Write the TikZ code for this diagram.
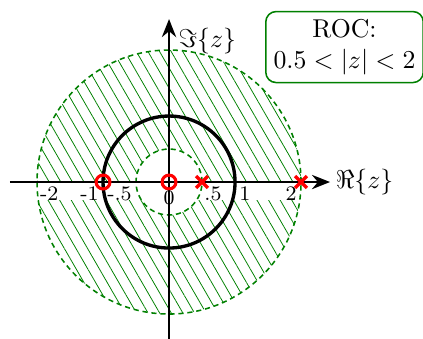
\documentclass[tikz,border=0pt]{standalone}
\usetikzlibrary{patterns.meta,arrows.meta}
\definecolor{rocgreen}{RGB}{0,128,0}
\begin{document}
\begin{tikzpicture}[x=0.9cm,y=0.9cm,
  axis/.style={line width=1.1pt,-{Stealth[length=7pt,width=5.5pt]}},
  rocline/.style={rocgreen,line width=0.6pt,dash pattern=on 2pt off 1.5pt},
  zeromark/.style={red,line width=1.2pt},
  polemark/.style={red,line width=1.3pt},
  ticklab/.style={font=\footnotesize,inner sep=1.5pt},
  rocbox/.style={draw=rocgreen,line width=0.6pt,rounded corners=4pt,align=center,inner sep=3pt,fill=white}]
\useasboundingbox (-2.561,-2.364) rectangle (3.848,2.758);
% hatched region of convergence
\fill[pattern={Lines[angle=-60,distance=3.9pt,line width=0.3pt]},pattern color=rocgreen,even odd rule]
  (0,0) circle (2) (0,0) circle (0.5);
\fill[white] (-2.1,-0.02) rectangle (2.1,-0.27);
\draw[rocline] (0,0) circle (2);
\draw[rocline] (0,0) circle (0.5);
% axes
\coordinate (xl) at (-2.41,0);
\coordinate (xr) at (2.44,0);
\coordinate (yb) at (0,-2.45);
\coordinate (yt) at (0,2.47);
\draw[axis] (xl) -- (xr);
\draw[axis] (yb) -- (yt);
\node[anchor=west,inner sep=2pt] (relab) at (xr) {$\Re\{z\}$};
\node[anchor=north west,inner sep=3.5pt] (imlab) at (yt) {$\Im\{z\}$};
% unit circle
\draw[line width=1.3pt] (0,0) circle (1);
% zeros
\draw[zeromark] (-1,0) circle (0.105);
\draw[zeromark] (0,0) circle (0.105);
% poles
\draw[polemark] (0.5,0) +(-0.09,-0.09) -- +(0.09,0.09) +(-0.09,0.09) -- +(0.09,-0.09);
\draw[polemark] (2,0) +(-0.09,-0.09) -- +(0.09,0.09) +(-0.09,0.09) -- +(0.09,-0.09);
% tick labels
\node[ticklab,anchor=north west] (tm2) at (-2.02,0) {-2};
\node[ticklab,anchor=north east] (tm1) at (-1,0) {-1};
\node[ticklab,anchor=north east] (tm05) at (-0.5,0) {-.5};
\node[ticklab,anchor=north] (t0) at (0,-0.07) {0};
\node[ticklab,anchor=north west] (t05) at (0.47,0) {.5};
\node[ticklab,anchor=north west] (t1) at (1,0) {1};
\node[ticklab,anchor=north east] (t2) at (2,0) {2};
% ROC box
\node[rocbox] (roc) at (2.659,2.045) {ROC:\\$0.5<|z|<2$};
\end{tikzpicture}
\end{document}
